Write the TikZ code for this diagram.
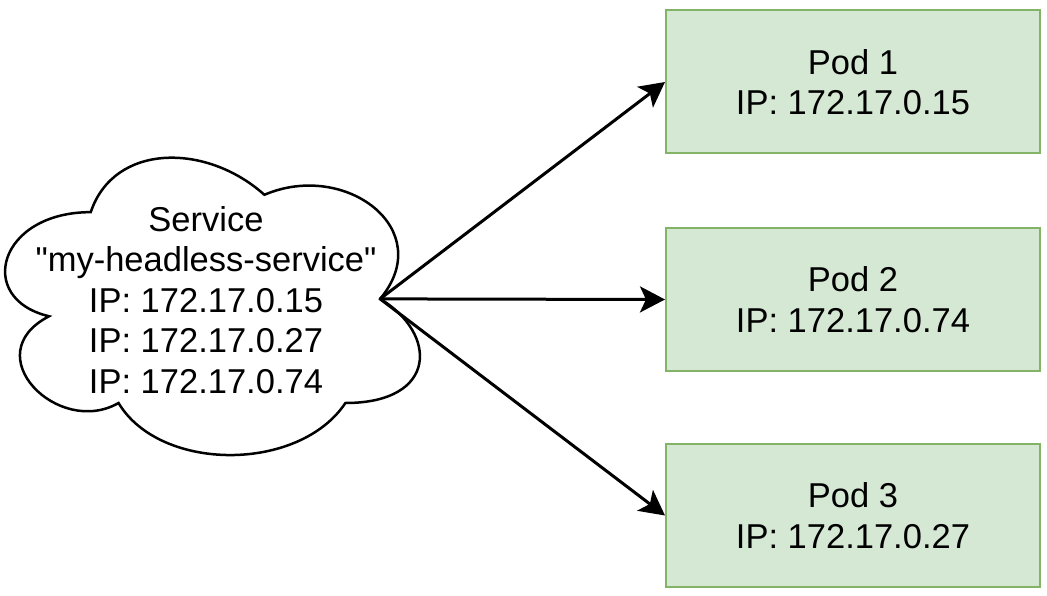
\documentclass[tikz,border=0pt]{standalone}
\usepackage{fontspec}
\setmainfont{Liberation Sans}[Ligatures=TeXOff]
\usetikzlibrary
  {
    arrows.meta,  % arrow heads
    positioning,  % place nodes relative to other nodes
  }

\definecolor{podfill}{HTML}{D5E8D4}
\definecolor{poddraw}{HTML}{82B366}

\begin{document}
\begin{tikzpicture}
    [
      x=1pt,
      y=-1pt,
      pod/.style=
        {
          rectangle,
          draw=poddraw,
          fill=podfill,
          line width=2pt,
          minimum width=374pt,
          minimum height=143pt,
          align=center,
          font=\fontsize{34.5}{40.5}\selectfont,
        },
      service/.style=
        {
          align=center,
          inner sep=0pt,
          font=\fontsize{34.5}{40.5}\selectfont,
        },
      cloud line/.style=
        {
          line width=2.5pt,
        },
      link/.style=
        {
          -{Stealth[length=25pt,width=26pt,inset=6pt]},
          line width=3pt,
        },
    ]
    \useasboundingbox (0,0) rectangle (1047,596);

    % the cloud, in its own box
    \begin{scope}[shift={(-25,125.4)}, x=463pt, y=-347pt]
      \draw[cloud line]
        (0.25,0.25) .. controls (0.05,0.25) and (0,0.5) .. (0.16,0.55)
        .. controls (0,0.66) and (0.18,0.9) .. (0.31,0.8)
        .. controls (0.4,1) and (0.7,1) .. (0.8,0.8)
        .. controls (1,0.8) and (1,0.6) .. (0.875,0.5)
        .. controls (1,0.3) and (0.8,0.1) .. (0.625,0.2)
        .. controls (0.5,0.05) and (0.3,0.05) .. (0.25,0.25)
        -- cycle;
      \coordinate (service out) at (0.875,0.5);
    \end{scope}

    \node[service] (service) at (206,300)
      {Service\\"my-headless-service"\\IP: 172.17.0.15\\IP: 172.17.0.27\\IP: 172.17.0.74};

    \node[pod] (pod 1) at (853,82)    {Pod 1\\IP: 172.17.0.15};
    \node[pod] (pod 2) at (853,299.5) {Pod 2\\IP: 172.17.0.74};
    \node[pod] (pod 3) at (853,515.5) {Pod 3\\IP: 172.17.0.27};

    \draw[link] (service out) -- (pod 1.west);
    \draw[link] (service out) -- (pod 2.west);
    \draw[link] (service out) -- (pod 3.west);
  \end{tikzpicture}
\end{document}
